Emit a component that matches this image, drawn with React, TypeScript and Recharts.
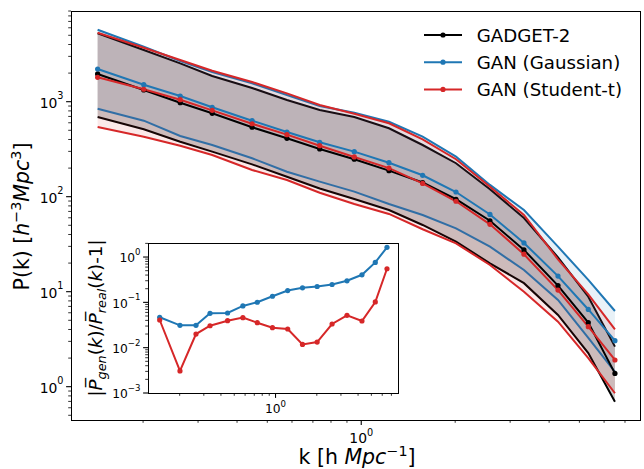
import React from 'react';
import { ComposedChart, Area, Line, XAxis, YAxis } from 'recharts';

// k bins [h/Mpc]
const kBins = [0.143, 0.201, 0.263, 0.333, 0.447, 0.578, 0.736, 0.95, 1.227, 1.573, 2.012, 2.585, 3.322, 4.27, 5.34, 6.5];

// P(k): median and 1-sigma-ish band for each model
const gadgetMid = [1960, 1327, 975, 755, 538, 412, 318, 248, 188, 141, 94, 55.8, 27.5, 11.6, 4.74, 1.38];
const gadgetHi = [5250, 3500, 2535, 1865, 1394, 1042, 818, 690, 525, 350, 225, 120, 59.7, 23.0, 8.86, 2.64];
const gadgetLo = [690, 512, 379, 298, 219, 162, 122, 94.6, 72.4, 50.4, 33.6, 19.9, 12.3, 5.69, 2.26, 0.695];

const gaussMid = [2210, 1510, 1148, 873, 631, 480, 374, 298, 228, 168, 112, 65, 32.6, 14.6, 6.5, 3.05];
const gaussHi = [5728, 3793, 2680, 2055, 1563, 1177, 901, 766, 615, 428, 264, 133, 72.4, 29.8, 13.3, 6.26];
const gaussLo = [844, 631, 435, 350, 254, 183, 144, 113, 83.8, 64.2, 46.5, 29.8, 16.9, 8.18, 3.26, 1.43];

const studentMid = [1806, 1352, 1050, 811, 586, 450, 344, 262, 200, 138, 89.5, 51.2, 24.8, 10.4, 4.28, 1.91];
const studentHi = [5325, 3700, 2748, 2120, 1611, 1225, 923, 748, 593, 402, 248, 127, 64.2, 21.9, 9.39, 4.02];
const studentLo = [542, 428, 344, 275, 191, 150, 110, 83.8, 65.8, 45.4, 32.3, 19.1, 10.0, 4.83, 2.0, 0.853];

// inset: |Pgen/Preal - 1|
const gaussRelErr = [0.0468, 0.0311, 0.0311, 0.0573, 0.0583, 0.0833, 0.1005, 0.1365, 0.1824, 0.209, 0.224, 0.248, 0.299, 0.406, 0.762, 1.64];
const studentRelErr = [0.0408, 0.00307, 0.02, 0.0305, 0.0394, 0.046, 0.0356, 0.0276, 0.0258, 0.0118, 0.0133, 0.0333, 0.0518, 0.0388, 0.102, 0.551];

const seriesNames = ['GADGET-2', 'GAN (Gaussian)', 'GAN (Student-t)'];
const seriesColors = ['#000000', '#1f77b4', '#d62728'];

const xTicks = [0.2, 0.3, 0.4, 0.5, 0.6, 0.7, 0.8, 0.9, 1, 2, 3, 4, 5, 6, 7];
const yTicks = [
  0.5, 0.6, 0.7, 0.8, 0.9, 1, 2, 3, 4, 5, 6, 7, 8, 9,
  10, 20, 30, 40, 50, 60, 70, 80, 90, 100, 200, 300, 400, 500, 600, 700, 800, 900,
  1000, 2000, 3000, 4000, 5000, 6000, 7000, 8000, 9000,
];
const insetYTicks = [
  0.001, 0.002, 0.003, 0.004, 0.005, 0.006, 0.007, 0.008, 0.009,
  0.01, 0.02, 0.03, 0.04, 0.05, 0.06, 0.07, 0.08, 0.09,
  0.1, 0.2, 0.3, 0.4, 0.5, 0.6, 0.7, 0.8, 0.9, 1, 2,
];

const data = kBins.map((k, i) => ({
  k,
  gadgetMid: gadgetMid[i], gadgetBand: [gadgetLo[i], gadgetHi[i]],
  gaussMid: gaussMid[i], gaussBand: [gaussLo[i], gaussHi[i]],
  studentMid: studentMid[i], studentBand: [studentLo[i], studentHi[i]],
  gaussErr: gaussRelErr[i], studentErr: studentRelErr[i],
}));

const FONT = '"DejaVu Sans", sans-serif';

const isDecade = (v: number) => Math.abs(Math.log10(v) - Math.round(Math.log10(v))) < 1e-6;
const expText = (v: number) => {
  const e = Math.round(Math.log10(v));
  return e < 0 ? '\u2212' + -e : String(e);
};

const makeXTick = (fs: number, base: number) => (props: any) => {
  const { x, y, payload } = props;
  const major = isDecade(payload.value);
  return (
    <g>
      <line x1={x} x2={x} y1={y} y2={y + (major ? 4.9 : 2.8)} stroke="#000" strokeWidth={major ? 1.1 : 0.8} />
      {major && (
        <text x={x} y={y + base} textAnchor="middle" fontSize={fs} fontFamily={FONT} fill="#000">
          10<tspan dy={-fs * 0.5} fontSize={fs * 0.7}>{expText(payload.value)}</tspan>
        </text>
      )}
    </g>
  );
};

const makeYTick = (fs: number) => (props: any) => {
  const { x, y, payload } = props;
  const major = isDecade(payload.value);
  return (
    <g>
      <line x1={x} x2={x - (major ? 4.9 : 2.8)} y1={y} y2={y} stroke="#000" strokeWidth={major ? 1.1 : 0.8} />
      {major && (
        <text x={x - 7.5} y={y + fs * 0.42} textAnchor="end" fontSize={fs} fontFamily={FONT} fill="#000">
          10<tspan dy={-fs * 0.58} fontSize={fs * 0.7}>{expText(payload.value)}</tspan>
        </text>
      )}
    </g>
  );
};

const MainXTick = makeXTick(13.9, 23.3);
const MainYTick = makeYTick(13.9);
const InsetXTick = makeXTick(12.3, 20.3);
const InsetYTick = makeYTick(12.3);

const dotStyle = (c: string) => ({ r: 2.6, fill: c, stroke: 'none' });

export default function App() {
  return (
    <div style={{ position: 'absolute', left: 0, top: 0, width: 644, height: 469, background: '#fff' }}>
      <div style={{ position: 'absolute', left: 0, top: 0 }}>
        <ComposedChart width={644} height={469} data={data} margin={{ top: 11, right: 4, left: 0, bottom: 0 }}>
          <XAxis dataKey="k" type="number" scale="log" domain={[0.1175, 7.82]} allowDataOverflow
            ticks={xTicks} interval={0} height={49} axisLine={false} tickLine={false} tickSize={0} tickMargin={0}
            tick={<MainXTick />} />
          <YAxis type="number" scale="log" domain={[0.446, 9010]} allowDataOverflow
            ticks={yTicks} interval={0} width={71} axisLine={false} tickLine={false} tickSize={0} tickMargin={0}
            tick={<MainYTick />} />
          <Area type="linear" dataKey="gadgetBand" stroke={seriesColors[0]} strokeWidth={2} fill={seriesColors[0]} fillOpacity={0.2} isAnimationActive={false} activeDot={false} />
          <Area type="linear" dataKey="gaussBand" stroke={seriesColors[1]} strokeWidth={2} fill={seriesColors[1]} fillOpacity={0.1} isAnimationActive={false} activeDot={false} />
          <Area type="linear" dataKey="studentBand" stroke={seriesColors[2]} strokeWidth={2} fill={seriesColors[2]} fillOpacity={0.1} isAnimationActive={false} activeDot={false} />
          <Line type="linear" dataKey="gadgetMid" stroke={seriesColors[0]} strokeWidth={2} dot={dotStyle(seriesColors[0])} activeDot={false} isAnimationActive={false} />
          <Line type="linear" dataKey="gaussMid" stroke={seriesColors[1]} strokeWidth={2} dot={dotStyle(seriesColors[1])} activeDot={false} isAnimationActive={false} />
          <Line type="linear" dataKey="studentMid" stroke={seriesColors[2]} strokeWidth={2} dot={dotStyle(seriesColors[2])} activeDot={false} isAnimationActive={false} />
        </ComposedChart>
      </div>
      {/* main axes frame */}
      <div style={{ position: 'absolute', left: 70.5, top: 10.5, width: 570, height: 410, border: '1.1px solid #000', boxSizing: 'border-box' }} />

      {/* inset */}
      <div style={{ position: 'absolute', left: 148, top: 243, width: 250, height: 150, background: '#fff' }} />
      <div style={{ position: 'absolute', left: 0, top: 0 }}>
        <ComposedChart width={644} height={469} data={data} margin={{ top: 243, right: 246, left: 0, bottom: 0 }}>
          <XAxis dataKey="k" type="number" scale="log" domain={[0.1175, 7.82]} allowDataOverflow
            ticks={xTicks} interval={0} height={76} axisLine={false} tickLine={false} tickSize={0} tickMargin={0}
            tick={<InsetXTick />} />
          <YAxis type="number" scale="log" domain={[0.001, 2.04]} allowDataOverflow
            ticks={insetYTicks} interval={0} width={148} axisLine={false} tickLine={false} tickSize={0} tickMargin={0}
            tick={<InsetYTick />} />
          <Line type="linear" dataKey="gaussErr" stroke={seriesColors[1]} strokeWidth={2} dot={dotStyle(seriesColors[1])} activeDot={false} isAnimationActive={false} />
          <Line type="linear" dataKey="studentErr" stroke={seriesColors[2]} strokeWidth={2} dot={dotStyle(seriesColors[2])} activeDot={false} isAnimationActive={false} />
        </ComposedChart>
      </div>
      <div style={{ position: 'absolute', left: 147.5, top: 242.5, width: 251, height: 151, border: '1.1px solid #000', boxSizing: 'border-box' }} />

      {/* labels and legend */}
      <svg width={644} height={469} style={{ position: 'absolute', left: 0, top: 0, pointerEvents: 'none' }} fontFamily={FONT}>
        <text x={357} y={464} textAnchor="middle" fontSize={20.5} fill="#000">
          k [h <tspan fontStyle="italic">Mpc</tspan><tspan dy={-8} fontSize={14.3}>{'\u22121'}</tspan><tspan dy={8}>]</tspan>
        </text>
        <text transform="translate(28.5,216.5) rotate(-90)" textAnchor="middle" fontSize={20.5} fill="#000">
          P(k) [<tspan fontStyle="italic">h</tspan><tspan dy={-8} fontSize={14.3}>{'\u22123'}</tspan><tspan dy={8} fontStyle="italic">Mpc</tspan><tspan dy={-8} fontSize={14.3}>3</tspan><tspan dy={8}>]</tspan>
        </text>
        <text transform="translate(101.5,318) rotate(-90)" textAnchor="middle" fontSize={18.3} fill="#000">
          |<tspan fontStyle="italic">{'P\u0305'}</tspan><tspan dy={4} fontSize={12.8} fontStyle="italic">gen</tspan><tspan dy={-4}>(</tspan><tspan fontStyle="italic">k</tspan>)/<tspan fontStyle="italic">{'P\u0305'}</tspan><tspan dy={4} fontSize={12.8} fontStyle="italic">real</tspan><tspan dy={-4}>(</tspan><tspan fontStyle="italic">k</tspan>)-1|
        </text>
        {seriesNames.map((name, i) => {
          const y = 35 + i * 27.2;
          return (
            <g key={name}>
              <line x1={424} x2={462} y1={y} y2={y} stroke={seriesColors[i]} strokeWidth={2} />
              <circle cx={443} cy={y} r={2.6} fill={seriesColors[i]} />
              <text x={476.7} y={y + 6.6} fontSize={18.2} fill="#000">{name}</text>
            </g>
          );
        })}
      </svg>
    </div>
  );
}
